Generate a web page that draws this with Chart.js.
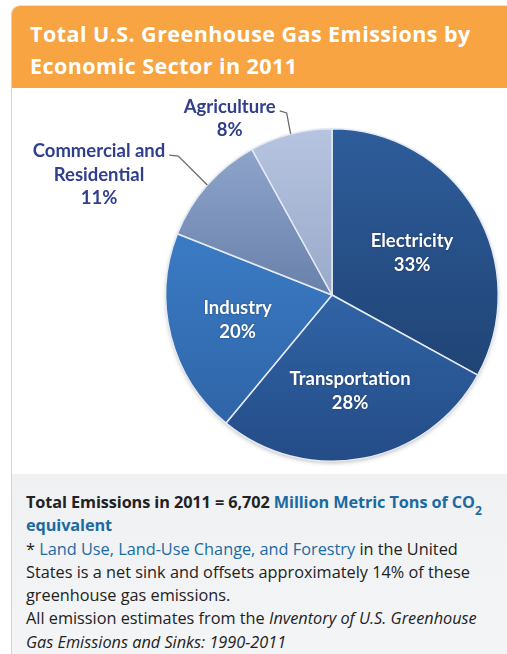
<!DOCTYPE html>
<html>
<head>
<meta charset="utf-8">
<script src="https://cdn.jsdelivr.net/npm/chart.js@4.4.1/dist/chart.umd.min.js"></script>
<style>
  html, body { margin: 0; padding: 0; background: #fff; width: 507px; height: 654px; overflow: hidden; }
  .card {
    position: absolute; left: 11px; top: 5px; width: 500px; height: 660px;
    border-left: 1px solid #d4d4d4; border-top: 1px solid #e2e2e2;
    border-radius: 9px 0 0 0; overflow: hidden; background: #fff;
  }
  .header {
    height: 70px; padding: 12px 0 0 18px; background: #f8a442;
    color: #fff; font: 700 21.5px/32px "Open Sans", sans-serif; letter-spacing: 0.45px;
  }
  .plot { position: absolute; left: 0; top: 82px; width: 495px; height: 385px; }
  .footer {
    position: absolute; left: 0; top: 468px; width: 500px; height: 200px;
    background: linear-gradient(#eff1f3, #f4f5f7);
    padding: 17px 0 0 14px; box-sizing: border-box;
    font: 400 16.3px/23.3px "Open Sans", sans-serif; color: #222;
  }
  .footer b { font-weight: 700; font-size: 16.3px; letter-spacing: -0.1px; }
  .lnk { color: #1b6aa2; }
  sub { font-size: 12px; font-weight: 700; line-height: 0; vertical-align: -7px; }
</style>
</head>
<body>
<div class="card">
  <div class="header">Total U.S. Greenhouse Gas Emissions by<br>Economic Sector in 2011</div>
  <div class="plot"><canvas id="pie" width="495" height="385"></canvas></div>
  <div class="footer">
    <b>Total Emissions in 2011 = 6,702 <span class="lnk">Million Metric Tons of CO<sub>2</sub> equivalent</span></b><br>
    * <span class="lnk">Land Use, Land-Use Change, and Forestry</span> in the United<br>
    States is a net sink and offsets approximately 14% of these<br>
    greenhouse gas emissions.<br>
    All emission estimates from the <i>Inventory of U.S. Greenhouse<br>Gas Emissions and Sinks: 1990-2011</i>
  </div>
</div>
<script>
const sectors = ['Electricity', 'Transportation', 'Industry', 'Commercial and Residential', 'Agriculture'];
const labelLines = [['Electricity'], ['Transportation'], ['Industry'], ['Commercial and', 'Residential'], ['Agriculture']];
const shares = [33, 28, 20, 11, 8];

// top / bottom colour of each slice's vertical gradient
const sliceTop = ['#2e5d9b', '#3d7bc4', '#4188d6', '#93a9cf', '#b6c4e0'];
const sliceBottom = ['#1b3b68', '#244c87', '#2d60a1', '#3f5886', '#7d8fb2'];

const labelFont = '700 18.5px Lato, sans-serif';
const outsideColor = '#303f8d';

function sliceFill(ctx) {
  const area = ctx.chart.chartArea;
  if (!area) return sliceBottom[ctx.dataIndex];
  const g = ctx.chart.ctx.createLinearGradient(0, area.top, 0, area.bottom);
  g.addColorStop(0, sliceTop[ctx.dataIndex]);
  g.addColorStop(1, sliceBottom[ctx.dataIndex]);
  return g;
}

// soft shadow under the whole pie
const pieShadow = {
  id: 'pieShadow',
  beforeDatasetsDraw(chart) {
    const arc = chart.getDatasetMeta(0).data[0];
    if (!arc) return;
    const { ctx } = chart;
    ctx.save();
    ctx.shadowColor = 'rgba(0,0,0,0.35)';
    ctx.shadowBlur = 5;
    ctx.shadowOffsetY = 2;
    ctx.beginPath();
    ctx.arc(arc.x, arc.y, arc.outerRadius - 1, 0, Math.PI * 2);
    ctx.fillStyle = '#24467a';
    ctx.fill();
    ctx.restore();
  }
};

// small nudges for the inside labels
const insideNudge = [[-3, 7], [0, 1], [-1, 1]];

// inside labels for the big slices, leader-line labels for the small ones
const sliceLabels = {
  id: 'sliceLabels',
  afterDatasetsDraw(chart) {
    const { ctx } = chart;
    const arcs = chart.getDatasetMeta(0).data;
    ctx.save();
    ctx.font = labelFont;
    ctx.textAlign = 'center';
    ctx.textBaseline = 'middle';
    arcs.forEach((arc, i) => {
      const mid = (arc.startAngle + arc.endAngle) / 2;
      const r = arc.outerRadius;
      const lines = labelLines[i].concat(shares[i] + '%');
      if (i < 3) {
        const d = r * 0.58;
        const x = arc.x + Math.cos(mid) * d + insideNudge[i][0];
        const y = arc.y + Math.sin(mid) * d + insideNudge[i][1];
        ctx.fillStyle = '#fff';
        ctx.shadowColor = 'rgba(0,0,0,0.35)';
        ctx.shadowBlur = 2;
        lines.forEach((t, k) => ctx.fillText(t, x, y - 12 + k * 24));
        ctx.shadowColor = 'transparent';
        return;
      }
      // leader: slice edge -> elbow -> short hook to the text
      const ex = arc.x + Math.cos(mid) * r;
      const ey = arc.y + Math.sin(mid) * r;
      const elbow = i === 3 ? [ex - 29, ey - 29] : [ex - 4, ey - 21];
      const hook = i === 3 ? [elbow[0] - 9, elbow[1] - 1] : [elbow[0] - 7, elbow[1] - 2];
      ctx.strokeStyle = '#6b6b6b';
      ctx.lineWidth = 1.3;
      ctx.beginPath();
      ctx.moveTo(ex, ey);
      ctx.lineTo(elbow[0], elbow[1]);
      ctx.lineTo(hook[0], hook[1]);
      ctx.stroke();
      const w = Math.max(...lines.map(t => ctx.measureText(t).width));
      const cx = hook[0] - 4 - w / 2;
      const top = hook[1] - 4;
      ctx.fillStyle = outsideColor;
      lines.forEach((t, k) => ctx.fillText(t, cx, top + k * 23.5));
    });
    ctx.restore();
  }
};

new Chart(document.getElementById('pie'), {
  type: 'pie',
  data: {
    labels: sectors,
    datasets: [{
      data: shares,
      backgroundColor: sliceFill,
      borderColor: '#e4eaf3',
      borderWidth: 1.5
    }]
  },
  options: {
    responsive: false,
    animation: false,
    layout: { padding: { left: 153, right: 8, top: 40, bottom: 11 } },
    plugins: {
      legend: { display: false },
      tooltip: { enabled: false }
    }
  },
  plugins: [pieShadow, sliceLabels]
});
</script>
</body>
</html>
